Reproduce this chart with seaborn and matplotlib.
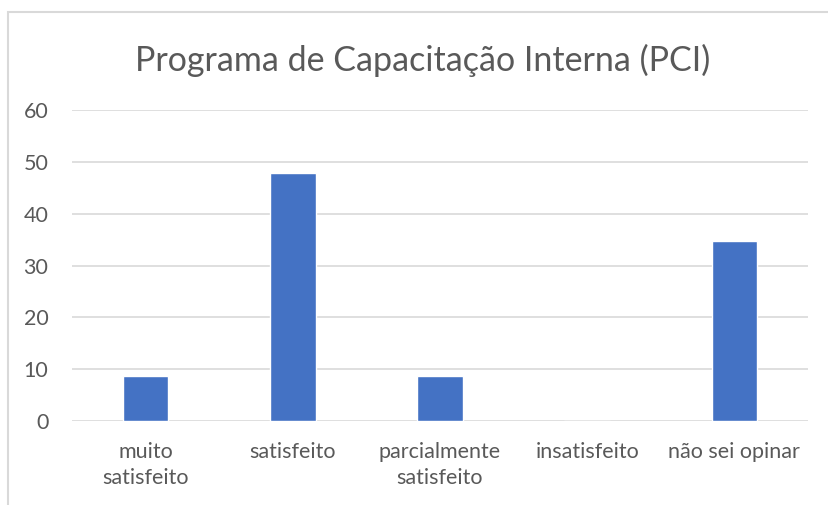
import matplotlib
matplotlib.use("Agg")
import matplotlib.pyplot as plt
import pandas as pd
import seaborn as sns

categories = ["muito\nsatisfeito", "satisfeito", "parcialmente\nsatisfeito",
              "insatisfeito", "não sei opinar"]
values = [8.7, 47.8, 8.7, 0.0, 34.8]
yticks = [0, 10, 20, 30, 40, 50, 60]

TEXT = "#595959"
GRID = "#d9d9d9"
BAR = "#4472c4"

sns.set_theme(style="white")
plt.rcParams["font.family"] = ["Lato", "DejaVu Sans"]

df = pd.DataFrame({"cat": categories, "val": values})

fig = plt.figure(figsize=(8.29, 5.05), dpi=100)
W, H = 829, 505
ax = fig.add_axes([72 / W, 1 - 421 / H, (808 - 72) / W, (421 - 110) / H])

sns.barplot(data=df, x="cat", y="val", color=BAR, width=0.31,
            saturation=1, ax=ax, zorder=3)

ax.set_ylim(0, 60)
ax.set_yticks(yticks)
ax.yaxis.grid(True, color=GRID, linewidth=1.2, zorder=0)
ax.set_axisbelow(True)
for s in ax.spines.values():
    s.set_visible(False)
ax.set_xlabel("")
ax.set_ylabel("")
ax.tick_params(axis="both", length=0, colors=TEXT, labelsize=15.5)
ax.tick_params(axis="y", pad=17)
ax.tick_params(axis="x", pad=15)
for lbl in ax.get_xticklabels():
    lbl.set_linespacing(1.4)

fig.text(422.5 / W, 1 - 60 / H, "Programa de Capacitação Interna (PCI)",
         ha="center", va="center", fontsize=24.5, color=TEXT)

# chart frame (cropped on the right and bottom in the reference)
frame = plt.Rectangle((8 / W, -0.1), 1.0, 1 - 12 / H + 0.1, transform=fig.transFigure,
                      fill=False, edgecolor=GRID, linewidth=1.5)
fig.patches.append(frame)

fig.savefig("out.png", dpi=100)
